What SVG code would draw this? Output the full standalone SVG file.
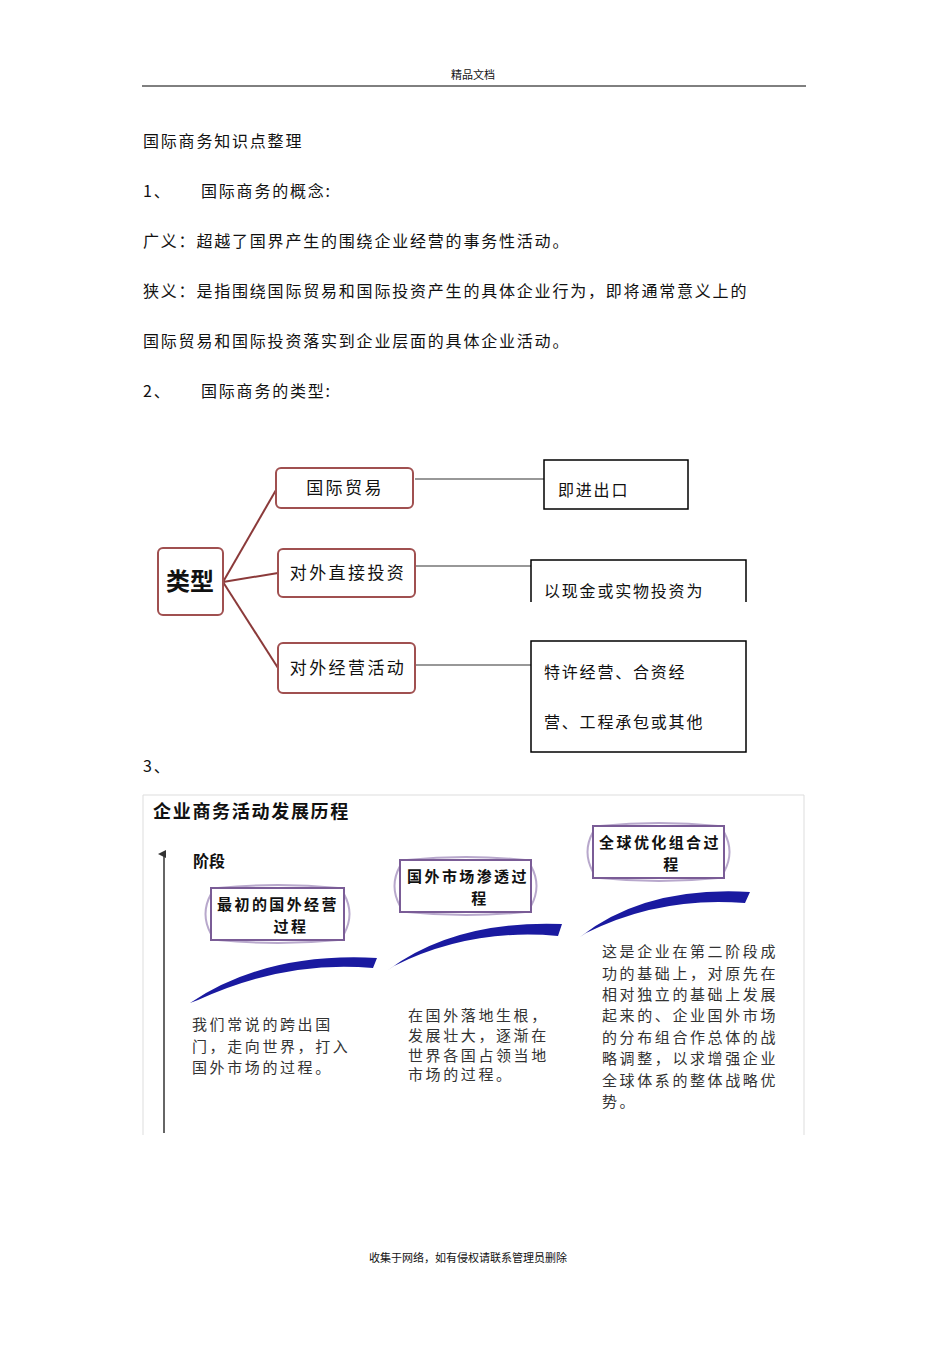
<svg xmlns="http://www.w3.org/2000/svg" width="950" height="1345" viewBox="0 0 950 1345">
<style>
text{font-family:"Noto Sans CJK SC","Liberation Sans",sans-serif;fill:#111}
.b{font-size:16px;letter-spacing:1.8px}
.t{font-size:17px;letter-spacing:2.4px}
.r{fill:#fff;stroke:#a05050;stroke-width:2}
.k{fill:#fff;stroke:#000;stroke-width:1.5}
.p{fill:#fff;stroke:#7a5c96;stroke-width:2}
.pe{fill:none;stroke:#b8a8cc;stroke-width:2}
.sw{fill:#1a1aa0}
.pt{font-size:15px;fill:#333;letter-spacing:2.6px}
.bt{font-size:15px;font-weight:bold;letter-spacing:2.4px}
</style>
<defs><marker id="ar" markerWidth="8" markerHeight="8" refX="4" refY="6" orient="auto" markerUnits="userSpaceOnUse"><path d="M0,8 L4,0 L8,8 Z" fill="#333"/></marker></defs>
<text x="473" y="79" font-size="11" text-anchor="middle">精品文档</text>
<line x1="142" y1="86" x2="806" y2="86" stroke="#000"/>
<text x="143" y="147" class="b">国际商务知识点整理</text>
<text x="143" y="197" class="b">1、</text><text x="201" y="197" class="b">国际商务的概念:</text>
<text x="143" y="247" class="b">广义：超越了国界产生的围绕企业经营的事务性活动。</text>
<text x="143" y="297" class="b">狭义：是指围绕国际贸易和国际投资产生的具体企业行为，即将通常意义上的</text>
<text x="143" y="347" class="b">国际贸易和国际投资落实到企业层面的具体企业活动。</text>
<text x="143" y="397" class="b">2、</text><text x="201" y="397" class="b">国际商务的类型:</text>
<g id="connectors" stroke="#8b3a3a" stroke-width="2" fill="none">
<line x1="223" y1="582" x2="276" y2="490"/>
<line x1="223" y1="582" x2="278" y2="573"/>
<line x1="223" y1="582" x2="278" y2="668"/>
<g stroke="#333" stroke-width="1.2"><line x1="415" y1="479" x2="544" y2="479"/><line x1="416" y1="566" x2="531" y2="566"/><line x1="416" y1="665" x2="531" y2="665"/></g>
</g>
<g id="n-type"><rect x="158" y="548" width="65" height="67" rx="5" class="r"/><text x="190" y="590" font-size="24" font-weight="bold" text-anchor="middle">类型</text></g>
<g id="n-trade"><rect x="276" y="468" width="137" height="40" rx="5" class="r"/><text x="345" y="494" class="t" text-anchor="middle">国际贸易</text></g>
<g id="n-fdi"><rect x="278" y="549" width="137" height="48" rx="5" class="r"/><text x="348" y="579" class="t" text-anchor="middle">对外直接投资</text></g>
<g id="n-ops"><rect x="278" y="643" width="137" height="50" rx="5" class="r"/><text x="348" y="674" class="t" text-anchor="middle">对外经营活动</text></g>
<g id="d1"><rect x="544" y="460" width="144" height="49" class="k"/><text x="558" y="496" class="b">即进出口</text></g>
<g id="d2"><path d="M531,602 V560 H746 V602" class="k"/><text x="544" y="597" class="b">以现金或实物投资为</text></g>
<g id="d3"><rect x="531" y="641" width="215" height="111" class="k"/><text x="544" y="678" class="b">特许经营、合资经</text><text x="544" y="728" class="b">营、工程承包或其他</text></g>
<text x="143" y="772" class="b">3、</text>
<path d="M143,1135 V795 H804 V1135" fill="none" stroke="#ddd"/>
<text x="153" y="818" font-size="18" font-weight="bold" letter-spacing="1.7">企业商务活动发展历程</text>
<line x1="164" y1="1133" x2="164" y2="854" stroke="#333" stroke-width="1.5" marker-end="url(#ar)"/>
<text x="193" y="867" font-size="16" font-weight="bold">阶段</text>
<g id="s1"><path d="M211,894 Q200,914 211,934 M344,894 Q355,914 344,934 M218,888 Q278,882 338,888 M218,940 Q278,946 338,940" class="pe"/><rect x="211" y="888" width="133" height="52" class="p"/><text x="278" y="910" class="bt" text-anchor="middle">最初的国外经营</text><text x="291" y="932" class="bt" text-anchor="middle">过程</text></g>
<g id="s2"><path d="M400,866 Q389,886 400,906 M531,866 Q542,886 531,906 M407,860 Q466,854 525,860 M407,912 Q466,918 525,912" class="pe"/><rect x="400" y="860" width="131" height="52" class="p"/><text x="468" y="882" class="bt" text-anchor="middle">国外市场渗透过</text><text x="480" y="904" class="bt" text-anchor="middle">程</text></g>
<g id="s3"><path d="M593,832 Q582,852 593,872 M724,832 Q735,852 724,872 M600,826 Q659,820 718,826 M600,878 Q659,884 718,878" class="pe"/><rect x="593" y="826" width="131" height="52" class="p"/><text x="660" y="848" class="bt" text-anchor="middle">全球优化组合过</text><text x="672" y="870" class="bt" text-anchor="middle">程</text></g>
<path class="sw" d="M190,1003 Q265,952 377,958 L373,968 Q285,960 198,1000 Z"/>
<path class="sw" d="M388,970 Q455,920 562,924 L558,936 Q470,928 394,966 Z"/>
<path class="sw" d="M580,937 Q645,886 750,892 L745,903 Q660,896 586,933 Z"/>
<text x="192" y="1030" class="pt">我们常说的跨出国</text><text x="192" y="1052" class="pt">门，走向世界，打入</text><text x="192" y="1073" class="pt">国外市场的过程。</text>
<text x="408" y="1021" class="pt">在国外落地生根，</text><text x="408" y="1041" class="pt">发展壮大，逐渐在</text><text x="408" y="1061" class="pt">世界各国占领当地</text><text x="408" y="1080" class="pt">市场的过程。</text>
<text x="602" y="957" class="pt">这是企业在第二阶段成</text><text x="602" y="979" class="pt">功的基础上，对原先在</text><text x="602" y="1000" class="pt">相对独立的基础上发展</text><text x="602" y="1021" class="pt">起来的、企业国外市场</text><text x="602" y="1043" class="pt">的分布组合作总体的战</text><text x="602" y="1064" class="pt">略调整，以求增强企业</text><text x="602" y="1086" class="pt">全球体系的整体战略优</text><text x="602" y="1107" class="pt">势。</text>
<text x="468" y="1262" font-size="11" text-anchor="middle">收集于网络，如有侵权请联系管理员删除</text>
</svg>
